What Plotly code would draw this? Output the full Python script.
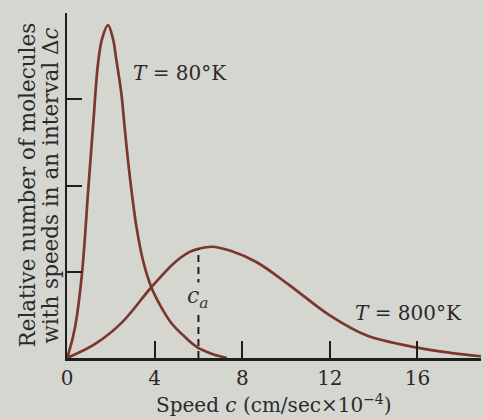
import plotly.graph_objects as go

# Speed (cm/sec x 10^-4) and relative number for the two temperatures
c_80 = [0, 0.07, 0.37, 0.68, 0.98, 1.21, 1.41, 1.6, 1.87, 2.1, 2.25, 2.48, 2.63, 2.78, 2.96, 3.17, 3.47, 3.85, 4.3, 4.78, 5.4, 5.92, 6.6, 7.3]
n_80 = [0, 0.05, 0.36, 0.97, 1.99, 2.76, 3.40, 3.70, 3.86, 3.70, 3.46, 3.07, 2.68, 2.30, 1.91, 1.52, 1.13, 0.82, 0.59, 0.40, 0.24, 0.13, 0.05, 0.0]

c_800 = [0, 1.27, 2.5, 3.85, 4.93, 5.6, 6.0, 6.6, 7.5, 8.66, 10.18, 11.96, 13.69, 16.0, 17.5, 18.9]
n_800 = [0, 0.16, 0.41, 0.82, 1.11, 1.23, 1.265, 1.29, 1.24, 1.11, 0.84, 0.50, 0.26, 0.12, 0.06, 0.02]

c_a = 6.0
n_ca = 1.265

x_ticks = [4, 8, 12, 16, 18.9]
x_ticktext = ["4", "8", "12", "16", ""]
y_ticks = [1, 2, 3, 4]

BG = "#d6d6d0"
CURVE = "#7b3630"
INK = "#1e1e1e"
TXT = "#2a2a2a"
FONT = "DejaVu Serif"

fig = go.Figure()
fig.add_trace(go.Scatter(x=c_80, y=n_80, mode="lines",
                         line=dict(color=CURVE, width=2.7, shape="spline", smoothing=1.0),
                         hoverinfo="skip"))
fig.add_trace(go.Scatter(x=c_800, y=n_800, mode="lines",
                         line=dict(color=CURVE, width=2.7, shape="spline", smoothing=1.0),
                         hoverinfo="skip"))
fig.add_trace(go.Scatter(x=[c_a, c_a], y=[0, n_ca], mode="lines",
                         line=dict(color=INK, width=2, dash="7px,5px"),
                         hoverinfo="skip"))

fig.add_annotation(x=c_a, y=0.70, text="<i>c</i><sub><i>a</i></sub>", showarrow=False,
                   font=dict(family=FONT, size=22, color="#333"), bgcolor=BG,
                   xanchor="center", yanchor="middle", borderpad=0)
fig.add_annotation(x=2.94, y=3.31, text="<i>T</i> = 80°K", showarrow=False,
                   font=dict(family=FONT, size=20, color=TXT),
                   xanchor="left", yanchor="middle")
fig.add_annotation(x=13.06, y=0.52, text="<i>T</i> = 800°K", showarrow=False,
                   font=dict(family=FONT, size=20, color=TXT),
                   xanchor="left", yanchor="middle")

# axis titles
fig.add_annotation(xref="paper", yref="paper", x=0.5, y=0, yshift=-31,
                   text="Speed <i>c</i> (cm/sec×10<sup>−4</sup>)", showarrow=False,
                   font=dict(family=FONT, size=20, color=TXT),
                   xanchor="center", yanchor="top")
fig.add_annotation(xref="paper", yref="paper", x=0, xshift=-40, y=0.5,
                   text="Relative number of molecules", textangle=-90, showarrow=False,
                   font=dict(family=FONT, size=21.5, color=TXT),
                   xanchor="center", yanchor="middle")
fig.add_annotation(xref="paper", yref="paper", x=0, xshift=-17, y=0.5,
                   text="with speeds in an interval Δ<i>c</i>", textangle=-90, showarrow=False,
                   font=dict(family=FONT, size=21.5, color=TXT),
                   xanchor="center", yanchor="middle")

fig.update_layout(
    width=484, height=419,
    margin=dict(l=67, r=3, t=13, b=61, pad=0),
    paper_bgcolor=BG, plot_bgcolor=BG,
    showlegend=False,
    xaxis=dict(range=[0, 18.9], tickvals=[0] + x_ticks, ticktext=["0"] + x_ticktext,
               ticks="inside", ticklen=17, tickwidth=2, tickcolor=INK,
               showline=True, linecolor=INK, linewidth=2.5,
               showgrid=False, zeroline=False,
               tickfont=dict(family=FONT, size=20, color=TXT),
               ticklabelstandoff=0),
    yaxis=dict(range=[0, 4], tickvals=y_ticks, showticklabels=False,
               ticks="inside", ticklen=15, tickwidth=2, tickcolor=INK,
               showline=True, linecolor=INK, linewidth=2.5,
               showgrid=False, zeroline=False),
)

fig.write_html("out.html", config={"displayModeBar": False, "staticPlot": True},
               post_script="document.body.style.margin='0px';document.body.style.background='%s';" % BG)
